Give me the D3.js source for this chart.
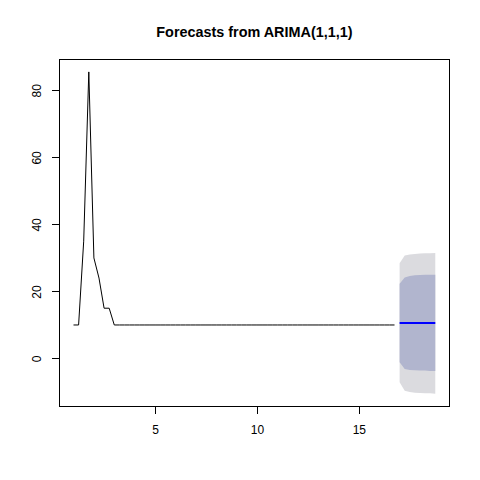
<!DOCTYPE html>
<html>
<head>
<meta charset="utf-8">
<script src="https://cdn.jsdelivr.net/npm/d3@7"></script>
<style>
  body { margin: 0; background: #fff; }
  svg { display: block; font-family: "Liberation Sans", Arial, sans-serif; }
</style>
</head>
<body>
<svg></svg>
<script>
// quarterly series, starts at 1 (Q1)
var tsStart = 1,
  tsFreq = 4;

var observed = [10, 10, 35, 85.5, 30, 24, 15, 15,
  10, 10, 10, 10, 10, 10, 10, 10,
  10, 10, 10, 10, 10, 10, 10, 10,
  10, 10, 10, 10, 10, 10, 10, 10,
  10, 10, 10, 10, 10, 10, 10, 10,
  10, 10, 10, 10, 10, 10, 10, 10,
  10, 10, 10, 10, 10, 10, 10, 10,
  10, 10, 10, 10, 10, 10, 10, 10];

// 8 step forecast
var fcMean = [10.6, 10.6, 10.6, 10.6, 10.6, 10.6, 10.6, 10.6];
var lo80 = [-1.1, -3.1, -3.4, -3.5, -3.6, -3.6, -3.7, -3.7];
var hi80 = [22.3, 24.2, 24.6, 24.8, 24.9, 25.0, 25.0, 25.0];
var lo95 = [-7.1, -9.6, -10.0, -10.2, -10.3, -10.4, -10.4, -10.5];
var hi95 = [28.4, 30.7, 31.0, 31.2, 31.3, 31.4, 31.4, 31.5];

var xTicks = [5, 10, 15],
  yTicks = [0, 20, 40, 60, 80];

var title = 'Forecasts from ARIMA(1,1,1)';

var width = 480,
  height = 480,
  lineH = 14.4,
  margin = {top: 4.1 * lineH, right: 2.1 * lineH, bottom: 5.1 * lineH, left: 4.1 * lineH};

var obsTime = observed.map((d, i) => tsStart + i / tsFreq);
var fcTime = fcMean.map((d, i) => tsStart + (observed.length + i) / tsFreq);

var svg = d3.select('svg')
  .attr('width', width)
  .attr('height', height);

// R style 4% padding on both axes
function pad(ext) {
  var p = (ext[1] - ext[0]) * 0.04;
  return [ext[0] - p, ext[1] + p];
}

var xAll = obsTime.concat(fcTime);
var yAll = observed.concat(lo95, hi95);

var x = d3.scaleLinear()
  .domain(pad(d3.extent(xAll)))
  .range([margin.left, width - margin.right]);

var y = d3.scaleLinear()
  .domain(pad(d3.extent(yAll)))
  .range([height - margin.bottom, margin.top]);

// prediction bands
var band95 = d3.area()
  .x((d, i) => x(fcTime[i]))
  .y0((d, i) => y(lo95[i]))
  .y1((d, i) => y(hi95[i]));

var band80 = d3.area()
  .x((d, i) => x(fcTime[i]))
  .y0((d, i) => y(lo80[i]))
  .y1((d, i) => y(hi80[i]));

svg.append('path')
  .datum(fcMean)
  .attr('d', band95)
  .attr('fill', '#DBDBDF');

svg.append('path')
  .datum(fcMean)
  .attr('d', band80)
  .attr('fill', '#B1B5CE');

// observed series
svg.append('path')
  .datum(observed)
  .attr('d', d3.line().x((d, i) => x(obsTime[i])).y(d => y(d)))
  .attr('fill', 'none')
  .attr('stroke', 'black')
  .attr('stroke-width', 1);

// point forecasts
svg.append('path')
  .datum(fcMean)
  .attr('d', d3.line().x((d, i) => x(fcTime[i])).y(d => y(d)))
  .attr('fill', 'none')
  .attr('stroke', '#0000FF')
  .attr('stroke-width', 2);

// axes
var xAxis = svg.append('g')
  .attr('transform', 'translate(0,' + (height - margin.bottom) + ')')
  .call(d3.axisBottom(x).tickValues(xTicks).tickSize(7.2).tickPadding(10).tickSizeOuter(0));

var yAxis = svg.append('g')
  .attr('transform', 'translate(' + margin.left + ',0)')
  .call(d3.axisLeft(y).tickValues(yTicks).tickSize(7.2).tickSizeOuter(0));

[xAxis, yAxis].forEach(function(g) {
  g.select('.domain').remove();
  g.selectAll('line').attr('stroke', 'black').attr('shape-rendering', 'crispEdges');
  g.selectAll('text').attr('fill', 'black').style('font-size', '12px');
});

yAxis.selectAll('.tick text')
  .attr('x', 0)
  .attr('dy', null)
  .attr('text-anchor', 'middle')
  .attr('dominant-baseline', 'central')
  .attr('transform', 'translate(-22,0) rotate(-90)');

xAxis.selectAll('.tick text')
  .attr('dy', null)
  .attr('y', 23)
  .attr('dominant-baseline', 'central');

// box
svg.append('rect')
  .attr('x', margin.left)
  .attr('y', margin.top)
  .attr('width', width - margin.left - margin.right)
  .attr('height', height - margin.top - margin.bottom)
  .attr('fill', 'none')
  .attr('stroke', 'black')
  .attr('shape-rendering', 'crispEdges');

svg.append('text')
  .attr('x', (margin.left + width - margin.right) / 2)
  .attr('y', 32)
  .attr('text-anchor', 'middle')
  .attr('dominant-baseline', 'central')
  .style('font-size', '14.4px')
  .style('font-weight', 'bold')
  .text(title);
</script>
</body>
</html>
